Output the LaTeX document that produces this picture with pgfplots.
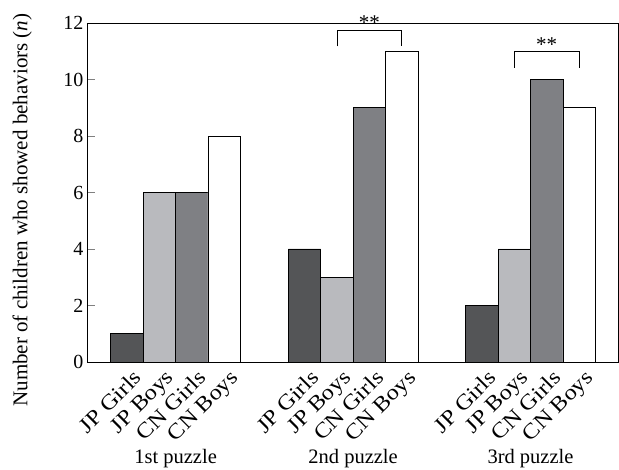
\documentclass[border=0pt]{standalone}
\usepackage{fontspec}
\setmainfont{Liberation Serif}
\newfontfamily\wideA[FakeStretch=1.13]{Liberation Serif}
\usepackage{pgfplots}
\pgfplotsset{compat=1.18}
\definecolor{cDark}{HTML}{545557}
\definecolor{cLight}{HTML}{B9BABE}
\definecolor{cMid}{HTML}{7F8084}
\begin{document}
\begin{tikzpicture}
\begin{axis}[
  scale only axis,
  width=531pt, height=339pt,
  xmin=0, xmax=531,
  ymin=0, ymax=12,
  ytick={0,2,4,6,8,10,12},
  ytick pos=left,
  tick align=inside,
  major tick length=8pt,
  /pgf/number format/assume math mode=true,
  tick label style={font=\fontsize{20}{24}\selectfont},
  xtick={40.0,72.4,104.8,137.2,217.5,249.9,282.3,314.7,394.9,427.3,459.7,492.1},
  xticklabels={JP Girls,JP Boys,CN Girls,CN Boys,JP Girls,JP Boys,CN Girls,CN Boys,JP Girls,JP Boys,CN Girls,CN Boys},
  xtick style={draw=none},
  xticklabel style={font=\wideA\fontsize{21.5}{25}\selectfont, xshift=5pt, yshift=3pt, rotate=45, anchor=north east, inner sep=1pt},
  ylabel={Number of children who showed behaviors (\textit{n})},
  ylabel style={font=\fontsize{21}{25}\selectfont, at={(axis description cs:-0.122,0.448)}, anchor=center},
  axis line style={black, line width=0.8pt},
  ybar, bar width=32.4, bar shift=0pt,
  clip=false,
]
\addplot[fill=cDark, draw=black, line width=0.7pt] coordinates {(40.0,1) (217.5,4) (394.9,2)};
\addplot[fill=cLight, draw=black, line width=0.7pt] coordinates {(72.4,6) (249.9,3) (427.3,4)};
\addplot[fill=cMid, draw=black, line width=0.7pt] coordinates {(104.8,6) (282.3,9) (459.7,10)};
\addplot[fill=white, draw=black, line width=0.7pt] coordinates {(137.2,8) (314.7,11) (492.1,9)};
\addplot[sharp plot, draw=black, line width=0.7pt, mark=none] coordinates {(249.9,11.17) (249.9,11.75) (314.7,11.75) (314.7,11.17)};
\addplot[sharp plot, draw=black, line width=0.7pt, mark=none] coordinates {(427.3,10.42) (427.3,11.0) (492.1,11.0) (492.1,10.42)};
\node[font=\fontsize{21}{24}\selectfont] at (axis cs:282.3,12.0) {**};
\node[font=\fontsize{21}{24}\selectfont] at (axis cs:459.7,11.25) {**};
\node[font=\fontsize{20.5}{24}\selectfont, anchor=base] at (axis cs:88.6,0) [yshift=-102pt] {1st puzzle};
\node[font=\fontsize{20.5}{24}\selectfont, anchor=base] at (axis cs:266.1,0) [yshift=-102pt] {2nd puzzle};
\node[font=\fontsize{20.5}{24}\selectfont, anchor=base] at (axis cs:443.5,0) [yshift=-102pt] {3rd puzzle};
\end{axis}
\pgfresetboundingbox
\path (current axis.south west) ++(-87pt,-108pt) rectangle ++(619pt,470pt);
\end{tikzpicture}
\end{document}
